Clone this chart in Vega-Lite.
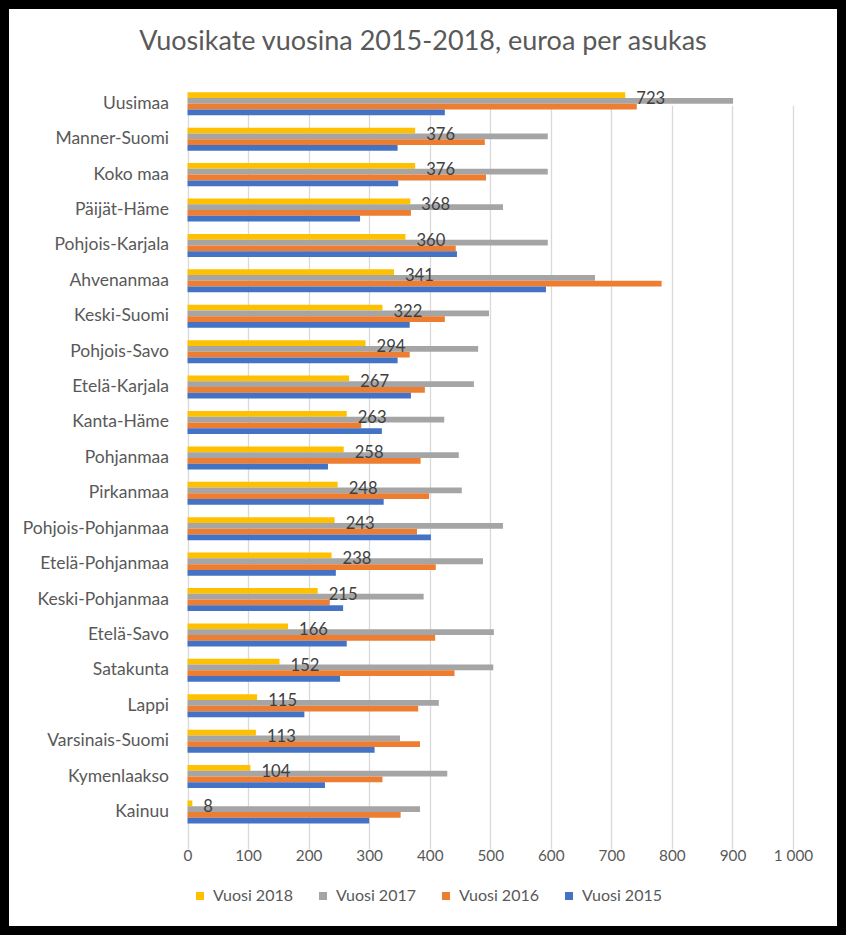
{
  "$schema": "https://vega.github.io/schema/vega-lite/v6.json",
  "width": 828,
  "height": 917,
  "autosize": {"type": "none"},
  "padding": {"left": 9, "top": 9, "right": 9, "bottom": 9},
  "background": "black",
  "title": {
    "text": "Vuosikate vuosina 2015-2018, euroa per asukas",
    "font": "Lato",
    "fontSize": 27,
    "fontWeight": "normal",
    "color": "#595959",
    "anchor": "middle",
    "frame": "group",
    "baseline": "alphabetic",
    "offset": -68
  },
  "config": {
    "view": {"fill": "white", "stroke": null},
    "font": "Lato"
  },
  "data": {
    "values": [
      {"region": "Uusimaa", "year": "Vuosi 2018", "value": 723},
      {"region": "Uusimaa", "year": "Vuosi 2017", "value": 901},
      {"region": "Uusimaa", "year": "Vuosi 2016", "value": 742},
      {"region": "Uusimaa", "year": "Vuosi 2015", "value": 425},
      {"region": "Manner-Suomi", "year": "Vuosi 2018", "value": 376},
      {"region": "Manner-Suomi", "year": "Vuosi 2017", "value": 595},
      {"region": "Manner-Suomi", "year": "Vuosi 2016", "value": 491},
      {"region": "Manner-Suomi", "year": "Vuosi 2015", "value": 347},
      {"region": "Koko maa", "year": "Vuosi 2018", "value": 376},
      {"region": "Koko maa", "year": "Vuosi 2017", "value": 595},
      {"region": "Koko maa", "year": "Vuosi 2016", "value": 493},
      {"region": "Koko maa", "year": "Vuosi 2015", "value": 348},
      {"region": "Päijät-Häme", "year": "Vuosi 2018", "value": 368},
      {"region": "Päijät-Häme", "year": "Vuosi 2017", "value": 521},
      {"region": "Päijät-Häme", "year": "Vuosi 2016", "value": 369},
      {"region": "Päijät-Häme", "year": "Vuosi 2015", "value": 285},
      {"region": "Pohjois-Karjala", "year": "Vuosi 2018", "value": 360},
      {"region": "Pohjois-Karjala", "year": "Vuosi 2017", "value": 595},
      {"region": "Pohjois-Karjala", "year": "Vuosi 2016", "value": 443},
      {"region": "Pohjois-Karjala", "year": "Vuosi 2015", "value": 445},
      {"region": "Ahvenanmaa", "year": "Vuosi 2018", "value": 341},
      {"region": "Ahvenanmaa", "year": "Vuosi 2017", "value": 673},
      {"region": "Ahvenanmaa", "year": "Vuosi 2016", "value": 783},
      {"region": "Ahvenanmaa", "year": "Vuosi 2015", "value": 592},
      {"region": "Keski-Suomi", "year": "Vuosi 2018", "value": 322},
      {"region": "Keski-Suomi", "year": "Vuosi 2017", "value": 498},
      {"region": "Keski-Suomi", "year": "Vuosi 2016", "value": 425},
      {"region": "Keski-Suomi", "year": "Vuosi 2015", "value": 367},
      {"region": "Pohjois-Savo", "year": "Vuosi 2018", "value": 294},
      {"region": "Pohjois-Savo", "year": "Vuosi 2017", "value": 480},
      {"region": "Pohjois-Savo", "year": "Vuosi 2016", "value": 367},
      {"region": "Pohjois-Savo", "year": "Vuosi 2015", "value": 347},
      {"region": "Etelä-Karjala", "year": "Vuosi 2018", "value": 267},
      {"region": "Etelä-Karjala", "year": "Vuosi 2017", "value": 473},
      {"region": "Etelä-Karjala", "year": "Vuosi 2016", "value": 392},
      {"region": "Etelä-Karjala", "year": "Vuosi 2015", "value": 369},
      {"region": "Kanta-Häme", "year": "Vuosi 2018", "value": 263},
      {"region": "Kanta-Häme", "year": "Vuosi 2017", "value": 424},
      {"region": "Kanta-Häme", "year": "Vuosi 2016", "value": 287},
      {"region": "Kanta-Häme", "year": "Vuosi 2015", "value": 321},
      {"region": "Pohjanmaa", "year": "Vuosi 2018", "value": 258},
      {"region": "Pohjanmaa", "year": "Vuosi 2017", "value": 448},
      {"region": "Pohjanmaa", "year": "Vuosi 2016", "value": 385},
      {"region": "Pohjanmaa", "year": "Vuosi 2015", "value": 232},
      {"region": "Pirkanmaa", "year": "Vuosi 2018", "value": 248},
      {"region": "Pirkanmaa", "year": "Vuosi 2017", "value": 453},
      {"region": "Pirkanmaa", "year": "Vuosi 2016", "value": 399},
      {"region": "Pirkanmaa", "year": "Vuosi 2015", "value": 324},
      {"region": "Pohjois-Pohjanmaa", "year": "Vuosi 2018", "value": 243},
      {"region": "Pohjois-Pohjanmaa", "year": "Vuosi 2017", "value": 521},
      {"region": "Pohjois-Pohjanmaa", "year": "Vuosi 2016", "value": 379},
      {"region": "Pohjois-Pohjanmaa", "year": "Vuosi 2015", "value": 402},
      {"region": "Etelä-Pohjanmaa", "year": "Vuosi 2018", "value": 238},
      {"region": "Etelä-Pohjanmaa", "year": "Vuosi 2017", "value": 488},
      {"region": "Etelä-Pohjanmaa", "year": "Vuosi 2016", "value": 410},
      {"region": "Etelä-Pohjanmaa", "year": "Vuosi 2015", "value": 245},
      {"region": "Keski-Pohjanmaa", "year": "Vuosi 2018", "value": 215},
      {"region": "Keski-Pohjanmaa", "year": "Vuosi 2017", "value": 390},
      {"region": "Keski-Pohjanmaa", "year": "Vuosi 2016", "value": 235},
      {"region": "Keski-Pohjanmaa", "year": "Vuosi 2015", "value": 257},
      {"region": "Etelä-Savo", "year": "Vuosi 2018", "value": 166},
      {"region": "Etelä-Savo", "year": "Vuosi 2017", "value": 506},
      {"region": "Etelä-Savo", "year": "Vuosi 2016", "value": 409},
      {"region": "Etelä-Savo", "year": "Vuosi 2015", "value": 263},
      {"region": "Satakunta", "year": "Vuosi 2018", "value": 152},
      {"region": "Satakunta", "year": "Vuosi 2017", "value": 505},
      {"region": "Satakunta", "year": "Vuosi 2016", "value": 441},
      {"region": "Satakunta", "year": "Vuosi 2015", "value": 252},
      {"region": "Lappi", "year": "Vuosi 2018", "value": 115},
      {"region": "Lappi", "year": "Vuosi 2017", "value": 415},
      {"region": "Lappi", "year": "Vuosi 2016", "value": 381},
      {"region": "Lappi", "year": "Vuosi 2015", "value": 193},
      {"region": "Varsinais-Suomi", "year": "Vuosi 2018", "value": 113},
      {"region": "Varsinais-Suomi", "year": "Vuosi 2017", "value": 351},
      {"region": "Varsinais-Suomi", "year": "Vuosi 2016", "value": 384},
      {"region": "Varsinais-Suomi", "year": "Vuosi 2015", "value": 309},
      {"region": "Kymenlaakso", "year": "Vuosi 2018", "value": 104},
      {"region": "Kymenlaakso", "year": "Vuosi 2017", "value": 429},
      {"region": "Kymenlaakso", "year": "Vuosi 2016", "value": 322},
      {"region": "Kymenlaakso", "year": "Vuosi 2015", "value": 227},
      {"region": "Kainuu", "year": "Vuosi 2018", "value": 8},
      {"region": "Kainuu", "year": "Vuosi 2017", "value": 384},
      {"region": "Kainuu", "year": "Vuosi 2016", "value": 352},
      {"region": "Kainuu", "year": "Vuosi 2015", "value": 300}
    ]
  },
  "encoding": {
    "y": {
      "field": "region",
      "type": "nominal",
      "sort": null,
      "scale": {"range": [77.1, 820.7], "paddingInner": 0.35, "paddingOuter": 0.175},
      "axis": {
        "title": null,
        "domain": false,
        "ticks": false,
        "tickSize": 0,
        "grid": false,
        "offset": -178.5,
        "labelPadding": 19,
        "labelFont": "Lato",
        "labelFontSize": 17.5,
        "labelColor": "#595959"
      }
    },
    "yOffset": {
      "field": "year",
      "type": "nominal",
      "sort": ["Vuosi 2018", "Vuosi 2017", "Vuosi 2016", "Vuosi 2015"],
      "scale": {"paddingInner": 0, "paddingOuter": 0}
    },
    "x": {
      "field": "value",
      "type": "quantitative",
      "scale": {"domain": [0, 1000], "nice": false, "range": [178.5, 784]},
      "axis": {
        "title": null,
        "values": [0, 100, 200, 300, 400, 500, 600, 700, 800, 900, 1000],
        "labelExpr": "replace(format(datum.value, ','), ',', ' ')",
        "domain": false,
        "ticks": false,
        "tickSize": 0,
        "grid": true,
        "gridColor": "#D9D9D9",
        "gridWidth": 1.3,
        "offset": -96.3,
        "labelPadding": 30.3,
        "labelBaseline": "alphabetic",
        "labelFont": "Lato",
        "labelFontSize": 15.3,
        "labelColor": "#595959",
        "labelFlush": false
      }
    }
  },
  "layer": [
    {
      "mark": {"type": "bar"},
      "encoding": {
        "color": {
          "field": "year",
          "type": "nominal",
          "scale": {
            "domain": ["Vuosi 2018", "Vuosi 2017", "Vuosi 2016", "Vuosi 2015"],
            "range": ["#FFC000", "#A5A5A5", "#ED7D31", "#4472C4"]
          },
          "legend": {
            "title": null,
            "orient": "none",
            "direction": "horizontal",
            "legendX": 183,
            "legendY": 879,
            "padding": 0,
            "symbolType": "square",
            "symbolSize": 64,
            "symbolStrokeWidth": 0,
            "labelOffset": 5,
            "columnPadding": 22,
            "labelFont": "Lato",
            "labelFontSize": 16,
            "labelColor": "#595959"
          }
        }
      }
    },
    {
      "transform": [{"filter": "datum.year == 'Vuosi 2018'"}],
      "mark": {
        "type": "text",
        "align": "left",
        "baseline": "middle",
        "dx": 11,
        "dy": 4,
        "font": "Lato",
        "fontSize": 16.6,
        "color": "#404040"
      },
      "encoding": {
        "text": {"field": "value", "type": "quantitative"}
      }
    }
  ]
}
